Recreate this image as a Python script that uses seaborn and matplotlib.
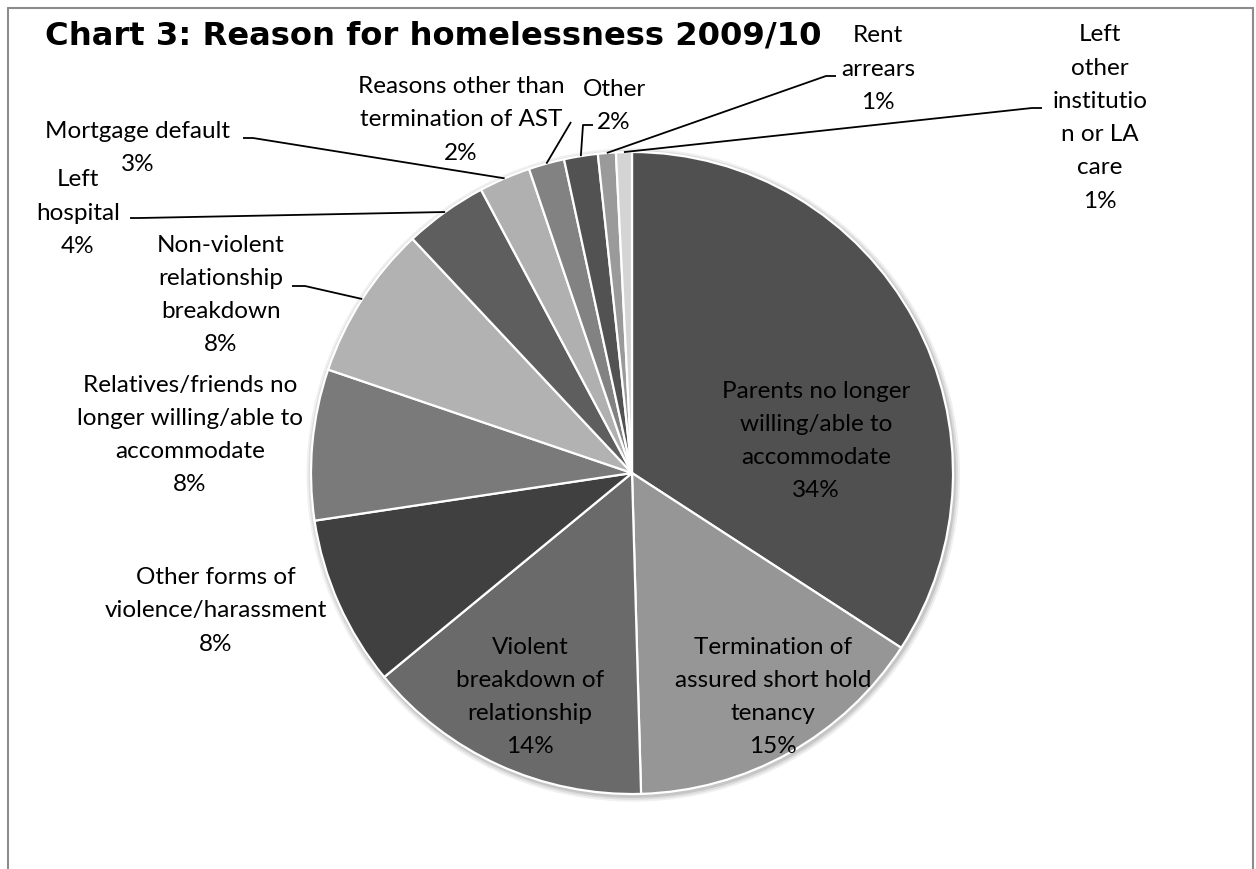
import numpy as np
import seaborn as sns
import matplotlib.pyplot as plt
from matplotlib.lines import Line2D
from matplotlib.patches import Circle

# Dados ----------------------------------------------------------
razoes = [
    'Parents no longer\nwilling/able to\naccommodate',
    'Termination of\nassured short hold\ntenancy',
    'Violent\nbreakdown of\nrelationship',
    'Other forms of\nviolence/harassment',
    'Relatives/friends no\nlonger willing/able to\naccommodate',
    'Non-violent\nrelationship\nbreakdown',
    'Left\nhospital',
    'Mortgage default',
    'Reasons other than\ntermination of AST',
    'Other',
    'Rent\narrears',
    'Left\nother\ninstitutio\nn or LA\ncare',
]
valores = [34.2, 15.4, 14.5, 8.6, 7.6, 7.8, 4.2, 2.6, 1.8, 1.7, 0.9, 0.8]
rotulos_pct = ['34%', '15%', '14%', '8%', '8%', '8%', '4%', '3%', '2%', '2%', '1%', '1%']
cores = ['#505050', '#969696', '#6a6a6a', '#404040', '#7a7a7a', '#b2b2b2',
         '#5e5e5e', '#b0b0b0', '#828282', '#525252', '#9a9a9a', '#d4d4d4']

# Layout (pixels) ----------------------------------------------------------
W, H = 1256, 869
CX, CY, R = 632, 473, 321

def px(x, y):
    return ((x - CX) / R, (CY - y) / R)

# centro dos rotulos
pos_rotulos = [(816, 441), (773, 697), (530, 697), (216, 611), (190, 435),
               (221, 295), (78, 213), (138, 148), (461, 120), (614, 106),
               (878, 69), (1100, 118)]
# linhas de chamada: (inicio, fim do trecho horizontal)
chamadas = {5: ((292, 286), (305, 286)),
            6: ((130, 218), (140, 218)),
            7: ((243, 138), (253, 138)),
            8: ((571, 122), (571, 122)),
            9: ((593, 125), (583, 125)),
            10: ((836, 76), (826, 76)),
            11: ((1042, 108), (1032, 108))}

sns.set_theme(style='white')
plt.rcParams['font.family'] = ['Lato', 'DejaVu Sans']

fig = plt.figure(figsize=(W / 100, H / 100), dpi=100)
ax = fig.add_axes([0, 0, 1, 1])

# sombra suave
for i, a in enumerate([0.10, 0.08, 0.06]):
    ax.add_patch(Circle((0.004, -0.006), 1.0 + 0.006 * (i + 1), color='black',
                        alpha=a, lw=0, zorder=0))

wedges, _ = ax.pie(valores, colors=cores, startangle=90, counterclock=False,
                   radius=1, wedgeprops=dict(edgecolor='white', linewidth=1.6))
for w in wedges:
    w.set_zorder(2)

for i, (txt, pct) in enumerate(zip(razoes, rotulos_pct)):
    x, y = px(*pos_rotulos[i])
    ax.text(x, y, f'{txt}\n{pct}', ha='center', va='center', fontsize=17.5,
            linespacing=1.72, color='black', zorder=5)

for i, (ini, stub) in chamadas.items():
    w = wedges[i]
    ang = np.deg2rad((w.theta1 + w.theta2) / 2)
    fim = (np.cos(ang), np.sin(ang))
    p0, p1 = px(*ini), px(*stub)
    ax.plot([p0[0], p1[0], fim[0]], [p0[1], p1[1], fim[1]], color='black',
            lw=1.3, zorder=4, solid_capstyle='butt')

ax.set_xlim(-CX / R, (W - CX) / R)
ax.set_ylim((CY - H) / R, CY / R)
ax.axis('off')

fig.text(45 / W, 1 - 45 / H, 'Chart 3: Reason for homelessness 2009/10',
         fontsize=23.2, fontweight='bold', family='DejaVu Sans', color='black',
         ha='left', va='baseline')

# moldura
cor_borda = '#8c8c8c'
fig.add_artist(Line2D([8 / W, 8 / W], [0, 1 - 8 / H], color=cor_borda, lw=1.5))
fig.add_artist(Line2D([8 / W, 1253 / W], [1 - 8 / H, 1 - 8 / H], color=cor_borda, lw=1.5))
fig.add_artist(Line2D([1253 / W, 1253 / W], [0, 1 - 8 / H], color=cor_borda, lw=1.5))

fig.savefig('out.png', dpi=100, facecolor='white')
